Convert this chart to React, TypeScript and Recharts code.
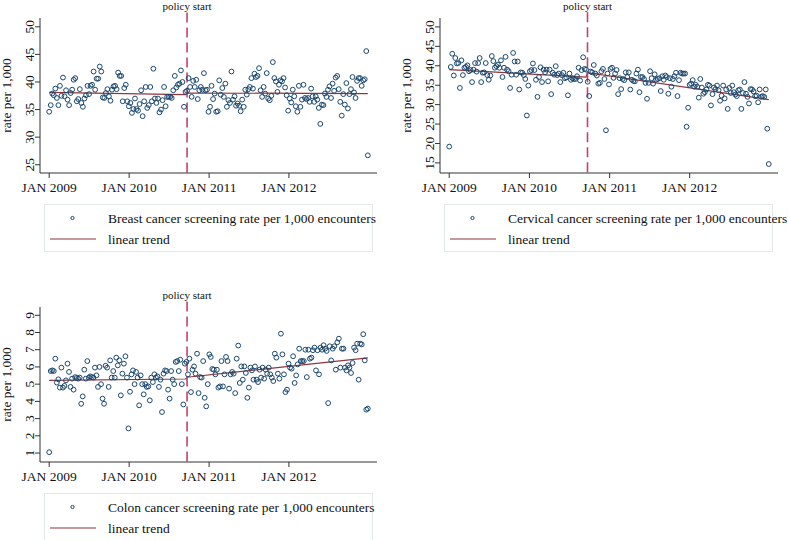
import React from "react";
import { ComposedChart, Scatter, Line, XAxis, YAxis, ReferenceLine } from "recharts";

const SERIF = "'Liberation Serif', 'Times New Roman', serif";
const NAVY = "#1a476f";
const TREND = "#90353b";
const POLICY = "#c4426a";
const AXIS = "#333";
const TEXT = "#111";

// weekly observations, Jan 2009 .. Dec 2012
const LAST_WEEK = 208;
const POLICY_WEEK = 90;
const xTickWeeks = [0, 52.2, 104.4, 156.5];
const xTickLabels = ["JAN 2009", "JAN 2010", "JAN 2011", "JAN 2012"];

const breastRates = [
  34.6, 35.8, 37.9, 37.6, 38.8, 37.1, 35.8, 39.3, 37.5, 40.8,
  37.4, 38.5, 36.8, 35.8, 38.0, 38.6, 40.4, 40.7, 36.5, 36.9,
  38.7, 36.2, 35.5, 37.0, 37.6, 39.3, 37.8, 39.3, 39.5, 41.9,
  38.6, 40.6, 40.6, 42.8, 41.9, 37.2, 37.1, 38.0, 38.7, 37.4,
  36.6, 38.6, 39.2, 39.3, 38.7, 41.7, 41.1, 41.1, 36.5, 38.9,
  39.5, 36.5, 35.6, 36.2, 34.4, 35.1, 37.0, 35.1, 34.8, 36.0,
  38.5, 33.8, 36.5, 39.1, 35.3, 35.8, 39.1, 36.5, 42.4, 37.0,
  36.2, 37.0, 34.5, 35.0, 36.7, 39.1, 35.6, 37.3, 37.3, 37.3,
  37.1, 38.5, 41.1, 39.0, 39.5, 39.7, 42.1, 40.0, 35.5, 38.2,
  38.4, 40.7, 39.1, 37.3, 40.2, 39.1, 40.4, 36.9,
  38.5, 39.1, 38.6, 41.6, 38.5, 38.6, 34.6, 35.5, 39.3, 36.9,
  37.9, 34.6, 34.7, 40.3, 37.7, 38.9, 37.3, 39.7, 35.5, 36.7,
  36.2, 41.9, 36.8, 37.4, 35.7, 36.1, 35.7, 34.7, 36.8, 35.5,
  38.6, 37.7, 38.7, 39.1, 40.7, 38.8, 41.5, 40.9, 41.1, 42.5,
  38.5, 37.3, 39.1, 37.9, 41.6, 37.0, 36.7, 37.5, 43.6, 40.7,
  40.1, 38.2, 39.5, 40.3, 40.1, 40.7, 39.0, 37.6, 34.8, 37.0,
  36.3, 38.6, 37.4, 35.6, 34.6, 39.3, 35.5, 36.8, 39.5, 37.1,
  36.9, 37.1, 36.4, 38.8, 37.4, 36.4, 37.4, 36.8, 35.3, 32.4,
  35.9, 35.8, 37.9, 37.3, 38.6, 39.2, 37.1, 39.7, 38.4, 40.8,
  41.1, 38.7, 36.4, 33.9, 37.8, 35.9, 39.8, 35.2, 37.8, 38.7,
  40.9, 38.1, 37.1, 40.2, 40.7, 40.7, 39.3, 40.3, 40.5, 45.6,
  26.7,
];

const cervicalRates = [
  19.2, 39.7, 43.1, 37.5, 42.0, 40.6, 40.7, 34.3, 41.4, 37.6,
  39.5, 39.7, 40.1, 38.6, 38.9, 35.8, 39.0, 40.7, 38.5, 40.7,
  42.0, 35.8, 38.2, 38.3, 40.7, 37.6, 36.4, 37.5, 42.5, 41.2,
  39.5, 39.9, 40.3, 39.5, 41.4, 37.1, 39.5, 42.3, 39.0, 38.6,
  34.3, 37.7, 43.3, 41.1, 37.7, 41.1, 33.9, 38.3, 38.2, 37.6,
  36.6, 27.2, 34.9, 38.6, 38.9, 40.6, 38.9, 36.4, 32.0, 37.1,
  39.6, 35.8, 39.0, 38.3, 39.0, 36.0, 39.0, 32.7, 38.2, 37.7,
  39.9, 37.6, 38.0, 35.8, 37.6, 38.2, 36.8, 37.0, 32.4, 38.0,
  36.4, 36.8, 36.6, 36.6, 37.3, 39.5, 36.2, 38.9, 42.2, 39.2,
  39.0, 35.9, 32.2, 38.5, 38.3, 40.2, 38.0, 37.5, 35.4, 35.6,
  38.6, 39.2, 36.6, 23.4,
  38.0, 35.2, 39.2, 39.5, 36.9, 38.0, 38.9, 32.7, 36.8, 34.0,
  36.6, 36.3, 38.3, 37.1, 38.3, 33.9, 36.4, 36.1, 36.0, 38.0,
  39.0, 33.2, 37.1, 37.1, 36.6, 35.6, 31.5, 35.6, 38.6, 36.8,
  35.4, 37.8, 36.4, 36.6, 36.8, 33.5, 37.3, 36.4, 37.5, 37.1,
  32.8, 36.8, 34.6, 36.6, 37.3, 38.2, 32.2, 36.3, 38.2, 38.0,
  38.0, 38.0, 24.3, 29.2, 35.1, 35.4, 36.3, 34.6, 35.1, 34.6,
  31.8, 36.6, 34.4, 32.8, 33.2, 33.9, 35.1, 34.9, 29.8, 32.7,
  34.4, 34.0, 34.9, 33.7, 31.0, 32.3, 34.9, 31.6, 33.9, 28.9,
  34.3, 33.0, 34.9, 33.2, 32.6, 32.2, 33.7, 33.9, 28.9, 33.0,
  35.8, 32.8, 32.0, 30.3, 34.0, 33.9, 33.4, 32.2, 32.3, 30.6,
  33.9, 32.0, 32.2, 32.0, 33.9, 23.8, 14.7,
];

const colonRates = [
  1.05, 5.76, 5.8, 5.76, 6.48, 5.09, 5.28, 4.8, 5.96, 4.8,
  4.9, 5.22, 6.19, 5.71, 4.84, 5.32, 4.68, 5.41, 5.36, 5.32,
  5.38, 3.86, 4.29, 5.84, 5.32, 6.34, 5.38, 5.45, 5.41, 5.38,
  5.96, 5.51, 4.84, 6.0, 5.0, 4.16, 3.86, 6.07, 5.96, 4.84,
  6.38, 5.38, 5.76, 5.38, 6.54, 6.09, 6.38, 4.35, 5.61, 6.19,
  6.62, 5.38, 2.43, 4.56, 5.57, 5.8, 5.0, 5.71, 5.38, 3.77,
  5.51, 5.0, 4.41, 5.0, 4.84, 4.87, 4.06, 5.38, 5.12, 5.57,
  5.38, 5.45, 4.84, 5.26, 3.38, 5.61, 5.8, 5.76, 4.68, 4.16,
  5.76, 5.26, 5.0, 6.29, 6.34, 5.76, 6.42, 5.0, 3.82, 6.19,
  6.29, 5.57, 6.48, 4.54, 5.84, 6.03, 5.61, 6.77, 4.48,
  5.41, 5.38, 6.34, 4.21, 3.71, 5.0, 6.73, 6.58, 5.88, 5.84,
  5.57, 5.84, 4.8, 4.87, 6.34, 4.87, 5.57, 6.58, 6.34, 4.74,
  5.57, 5.71, 5.61, 4.48, 6.48, 7.24, 5.07, 6.03, 5.26, 6.03,
  5.65, 4.21, 4.8, 5.96, 5.8, 5.26, 6.03, 5.26, 5.12, 5.84,
  5.38, 5.96, 5.32, 5.84, 5.61, 5.96, 5.57, 5.38, 5.18, 6.77,
  6.54, 5.61, 5.32, 7.93, 6.73, 5.57, 4.54, 4.68, 6.19, 5.96,
  5.9, 6.62, 5.07, 5.51, 6.15, 7.06, 6.34, 6.34, 6.34, 7.0,
  5.41, 7.0, 6.48, 6.54, 6.97, 7.12, 5.8, 6.97, 5.57, 7.12,
  7.0, 7.26, 7.06, 6.93, 3.9, 7.2, 6.38, 7.06, 7.2, 5.84,
  7.43, 7.64, 5.96, 7.06, 7.06, 5.96, 5.8, 6.09, 5.96, 5.65,
  6.23, 7.12, 6.97, 7.35, 5.26, 7.35, 7.31, 7.9, 6.38, 3.52,
  3.58,
];

// segmented linear trend: pre-policy and post-policy fits
const trendWeeks = [0, 89, 90, 208];
const breastTrend = [38.1, 37.7, 38.0, 37.9];
const cervicalTrend = [39.0, 37.1, 38.2, 31.3];
const colonTrend = [5.22, 5.3, 5.4, 6.53];

const breastTicks = [25, 30, 35, 40, 45, 50];
const cervicalTicks = [15, 20, 25, 30, 35, 40, 45, 50];
const colonTicks = [1, 2, 3, 4, 5, 6, 7, 8, 9];

const toPoints = (rates: number[]) =>
  rates.map((y, i) => ({ x: (i * LAST_WEEK) / (rates.length - 1), y }));
const toTrend = (vals: number[]) => vals.map((y, i) => ({ x: trendWeeks[i], y }));

const YTick = (props: any) => {
  const { x, y, payload } = props;
  return (
    <text x={x} y={y} transform={`rotate(-90 ${x} ${y})`} textAnchor="middle" fill={TEXT} fontSize={13.5} fontFamily={SERIF}>
      {payload.value}
    </text>
  );
};

const YLabel = (props: any) => {
  const vb = props.viewBox || { x: 0, y: 18, height: 155 };
  const cx = vb.x + 10.5;
  const cy = vb.y + vb.height / 2;
  return (
    <text x={cx} y={cy} transform={`rotate(-90 ${cx} ${cy})`} textAnchor="middle" fill={TEXT} fontSize={13.5} fontFamily={SERIF}>
      rate per 1,000
    </text>
  );
};

const Ring = (props: any) => (
  <circle cx={props.cx} cy={props.cy} r={2.4} fill="none" stroke={NAVY} strokeWidth={1} />
);

function Panel({ left, top, width, marginRight, yDomain, yTicks, policyTop, rates, trend }: any) {
  return (
    <div style={{ position: "absolute", left, top }}>
      <ComposedChart width={width} height={200} margin={{ top: 18, right: marginRight, bottom: 0, left: 0 }}>
        <XAxis
          dataKey="x"
          type="number"
          domain={[-6, 214]}
          allowDataOverflow
          ticks={xTickWeeks}
          interval={0}
          tickFormatter={(v: number) => xTickLabels[xTickWeeks.indexOf(v)]}
          height={27}
          tickSize={5}
          tickMargin={4}
          axisLine={{ stroke: AXIS }}
          tickLine={{ stroke: AXIS }}
          tick={{ fill: TEXT, fontSize: 13.5, fontFamily: SERIF }}
        />
        <YAxis
          dataKey="y"
          type="number"
          domain={yDomain}
          allowDataOverflow
          ticks={yTicks}
          interval={0}
          width={40}
          tickSize={5}
          tickMargin={1}
          axisLine={{ stroke: AXIS }}
          tickLine={{ stroke: AXIS }}
          tick={<YTick />}
          label={<YLabel />}
        />
        <Scatter data={toPoints(rates)} dataKey="y" shape={(p: any) => <Ring {...p} />} isAnimationActive={false} />
        <Line data={toTrend(trend)} dataKey="y" stroke={TREND} strokeWidth={1.2} dot={false} activeDot={false} isAnimationActive={false} />
        <ReferenceLine
          segment={[{ x: POLICY_WEEK, y: policyTop }, { x: POLICY_WEEK, y: yDomain[0] }]}
          ifOverflow="visible"
          stroke={POLICY}
          strokeWidth={1.6}
          strokeDasharray="10 5"
          label={{ value: "policy start", position: "top", offset: 2.5, fill: TEXT, fontSize: 11, fontFamily: SERIF }}
        />
      </ComposedChart>
    </div>
  );
}

function LegendBox({ left, top, label }: { left: number; top: number; label: string }) {
  return (
    <div style={{ position: "absolute", left, top, width: 329, height: 48, border: "1px solid #e3e8eb", boxSizing: "border-box" }}>
      <svg width={340} height={48} style={{ position: "absolute", left: -1, top: -1, overflow: "visible" }}>
        <circle cx={28.5} cy={14} r={1.6} fill="none" stroke={NAVY} strokeWidth={1} />
        <text x={64} y={18.8} fontSize={13.5} fontFamily={SERIF} fill={TEXT}>{label}</text>
        <line x1={6} x2={52} y1={35} y2={35} stroke={TREND} strokeWidth={1.2} />
        <text x={64} y={39.8} fontSize={13.5} fontFamily={SERIF} fill={TEXT}>linear trend</text>
      </svg>
    </div>
  );
}

export default function App() {
  return (
    <div style={{ position: "absolute", left: 0, top: 0, width: 788, height: 540, background: "#fff", overflow: "hidden", fontFamily: SERIF }}>
      <Panel left={0} top={0} width={400} marginRight={23} yDomain={[23.5, 51.6]} yTicks={breastTicks} policyTop={52.6} rates={breastRates} trend={breastTrend} />
      <Panel left={400} top={0} width={388} marginRight={10} yDomain={[12.4, 52.3]} yTicks={cervicalTicks} policyTop={53.75} rates={cervicalRates} trend={cervicalTrend} />
      <Panel left={0} top={288.5} width={400} marginRight={23} yDomain={[0.48, 9.48]} yTicks={colonTicks} policyTop={9.8} rates={colonRates} trend={colonTrend} />
      <LegendBox left={44} top={204} label="Breast cancer screening rate per 1,000 encounters" />
      <LegendBox left={444} top={204} label="Cervical cancer screening rate per 1,000 encounters" />
      <LegendBox left={44} top={493} label="Colon cancer screening rate per 1,000 encounters" />
    </div>
  );
}
